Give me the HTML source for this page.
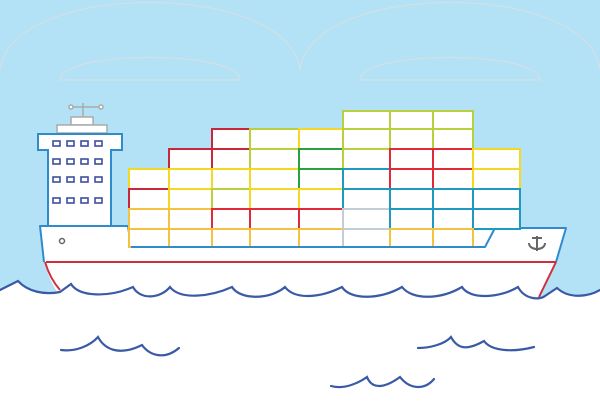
<!DOCTYPE html>
<html><head><style>html,body{margin:0;padding:0;background:#fff}svg{display:block}</style></head>
<body>
<svg width="600" height="420" viewBox="0 0 600 420" xmlns="http://www.w3.org/2000/svg">
<rect x="0" y="0" width="600" height="420" fill="#fff"/>
<rect x="0" y="0" width="600" height="302" fill="#b3e1f6"/>
<g fill="none" stroke="#d4dfe4" stroke-width="1.2">
<path d="M0,70 C10,-20 290,-20 300,70 C310,-20 590,-20 600,70"/>
<path d="M60,80 C60,50 240,50 240,80 Z"/>
<path d="M360,80 C360,50 540,50 540,80 Z"/>
</g>
<!-- hull fill -->
<path d="M40,226 L128,226 L131,247 L485,247 L495,228 L566,228 L556,263 L538,300 L62,300 C52,285 46,270 44,262 Z" fill="#fff"/>
<rect x="470" y="228" width="26" height="20" fill="#fff"/>
<path d="M0,290 L18,281 C28,292 45,295 60,292 L71,284 C80,298 110,296 128,289 L133,287 C140,300 160,299 170,287 C180,300 210,297 232,287 C240,300 270,300 285,287 C295,300 320,298 342,287 C350,300 380,300 402,287 C412,300 440,300 462,287 C470,300 500,298 518,287 C525,300 540,300 545,296 L557,288 C570,300 590,296 600,290 L600,420 L0,420 Z" fill="#fff"/>
<path d="M44,262 L40,226 L128,226 L131,247 L485,247 L495,228 L566,228 L556,262" fill="none" stroke="#2f8ccb" stroke-width="2" stroke-linejoin="round"/>
<line x1="46" y1="262" x2="556" y2="262" stroke="#d02e3c" stroke-width="2"/>
<line x1="556" y1="262" x2="539" y2="297" stroke="#d02e3c" stroke-width="2"/>
<path d="M45,262 C48,272 53,282 60,290" fill="none" stroke="#d02e3c" stroke-width="2"/>
<circle cx="62" cy="241" r="2.5" fill="none" stroke="#666" stroke-width="1.5"/>
<g fill="none" stroke="#666" stroke-width="2">
<line x1="537" y1="236" x2="537" y2="251"/><line x1="532" y1="238" x2="542" y2="238"/>
<path d="M529,243 C529,251 545,251 545,243"/>
</g>
<g fill="none" stroke="#aaa" stroke-width="1.5">
<line x1="83" y1="103" x2="83" y2="117"/><line x1="71" y1="107" x2="101" y2="107"/>
<circle cx="71" cy="107" r="2" fill="#fff"/><circle cx="101" cy="107" r="2" fill="#fff"/>
<rect x="71" y="117" width="22" height="8" fill="#fff"/>
<rect x="57" y="125" width="50" height="8" fill="#fff"/>
</g>
<path d="M38,134 H122 V150 H111 V226 H48 V150 H38 Z" fill="#fff" stroke="#2f8ccb" stroke-width="2"/>
<g fill="#fff" stroke="#3d4fa0" stroke-width="1.6">
<rect x="53" y="141" width="7" height="5"/><rect x="67" y="141" width="7" height="5"/><rect x="81" y="141" width="7" height="5"/><rect x="95" y="141" width="7" height="5"/>
<rect x="53" y="159" width="7" height="5"/><rect x="67" y="159" width="7" height="5"/><rect x="81" y="159" width="7" height="5"/><rect x="95" y="159" width="7" height="5"/>
<rect x="53" y="177" width="7" height="5"/><rect x="67" y="177" width="7" height="5"/><rect x="81" y="177" width="7" height="5"/><rect x="95" y="177" width="7" height="5"/>
<rect x="53" y="198" width="7" height="5"/><rect x="67" y="198" width="7" height="5"/><rect x="81" y="198" width="7" height="5"/><rect x="95" y="198" width="7" height="5"/>
</g>
<g fill="#fff" stroke-width="2">
<rect x="343" y="111" width="47" height="18" stroke="#b8d03c"/><rect x="390" y="111" width="43" height="18" stroke="#b8d03c"/><rect x="433" y="111" width="40" height="18" stroke="#b8d03c"/>
<rect x="212" y="129" width="38" height="20" stroke="#c8283a"/><rect x="250" y="129" width="49" height="20" stroke="#b8d03c"/><rect x="299" y="129" width="44" height="20" stroke="#f5d822"/>
<rect x="343" y="129" width="47" height="20" stroke="#b8d03c"/><rect x="390" y="129" width="43" height="20" stroke="#b8d03c"/><rect x="433" y="129" width="40" height="20" stroke="#b8d03c"/>
<rect x="169" y="149" width="43" height="20" stroke="#c8283a"/><rect x="212" y="149" width="38" height="20" stroke="#c8283a"/><rect x="250" y="149" width="49" height="20" stroke="#b8d03c"/>
<rect x="299" y="149" width="44" height="20" stroke="#2aa040"/><rect x="343" y="149" width="47" height="20" stroke="#b8d03c"/>
<rect x="390" y="149" width="43" height="20" stroke="#e02a3a"/><rect x="433" y="149" width="40" height="20" stroke="#e02a3a"/><rect x="473" y="149" width="47" height="20" stroke="#f5d822"/>
<rect x="129" y="169" width="40" height="20" stroke="#f5d822"/><rect x="169" y="169" width="43" height="20" stroke="#f5d822"/><rect x="212" y="169" width="38" height="20" stroke="#f5d822"/><rect x="250" y="169" width="49" height="20" stroke="#f5d822"/>
<rect x="299" y="169" width="44" height="20" stroke="#2aa040"/><rect x="343" y="169" width="47" height="20" stroke="#1e9ac0"/>
<rect x="390" y="169" width="43" height="20" stroke="#e02a3a"/><rect x="433" y="169" width="40" height="20" stroke="#e02a3a"/><rect x="473" y="169" width="47" height="20" stroke="#f5d822"/>
<rect x="129" y="189" width="40" height="20" stroke="#c8283a"/><rect x="169" y="189" width="43" height="20" stroke="#f5d822"/><rect x="212" y="189" width="38" height="20" stroke="#b8d03c"/><rect x="250" y="189" width="49" height="20" stroke="#f5d822"/>
<rect x="299" y="189" width="44" height="20" stroke="#f5d822"/><rect x="343" y="189" width="47" height="20" stroke="#1e9ac0"/>
<rect x="390" y="189" width="43" height="20" stroke="#1e9ac0"/><rect x="433" y="189" width="40" height="20" stroke="#1e9ac0"/><rect x="473" y="189" width="47" height="20" stroke="#1e9ac0"/>
<rect x="129" y="209" width="40" height="20" stroke="#f6c040"/><rect x="169" y="209" width="43" height="20" stroke="#f6c040"/><rect x="212" y="209" width="38" height="20" stroke="#e02a3a"/><rect x="250" y="209" width="49" height="20" stroke="#e02a3a"/>
<rect x="299" y="209" width="44" height="20" stroke="#e02a3a"/><rect x="343" y="209" width="47" height="20" stroke="#c4ccd4"/>
<rect x="390" y="209" width="43" height="20" stroke="#1e9ac0"/><rect x="433" y="209" width="40" height="20" stroke="#1e9ac0"/><rect x="473" y="209" width="47" height="20" stroke="#1e9ac0"/>
<rect x="129" y="229" width="40" height="18" stroke="#f6c040"/><rect x="169" y="229" width="43" height="18" stroke="#f6c040"/><rect x="212" y="229" width="38" height="18" stroke="#f6c040"/><rect x="250" y="229" width="49" height="18" stroke="#f6c040"/>
<rect x="299" y="229" width="44" height="18" stroke="#f6c040"/><rect x="343" y="229" width="47" height="18" stroke="#c4ccd4"/>
<rect x="390" y="229" width="43" height="18" stroke="#f6c040"/><rect x="433" y="229" width="40" height="18" stroke="#f6c040"/>
</g>
<line x1="131" y1="247" x2="485" y2="247" stroke="#2f8ccb" stroke-width="2"/>
<g fill="none" stroke="#3a5aa6" stroke-width="2.2" stroke-linecap="round">
<path d="M0,290 L18,281 C28,292 45,295 60,292 L71,284 C80,298 110,296 128,289 L133,287 C140,300 160,299 170,287 C180,300 210,297 232,287 C240,300 270,300 285,287 C295,300 320,298 342,287 C350,300 380,300 402,287 C412,300 440,300 462,287 C470,300 500,298 518,287 C525,300 540,300 545,296 L557,288 C570,300 590,296 600,290"/>
<path d="M61,350 C75,352 90,346 98,337 C105,350 120,356 142,345 C150,356 165,360 179,348"/>
<path d="M418,348 C430,348 445,344 451,337 C458,350 468,350 484,341 C492,352 515,352 534,347"/>
<path d="M331,386 C345,390 360,382 367,377 C372,390 385,388 400,377 C410,390 425,390 434,379"/>
</g>
</svg>
</body></html>
